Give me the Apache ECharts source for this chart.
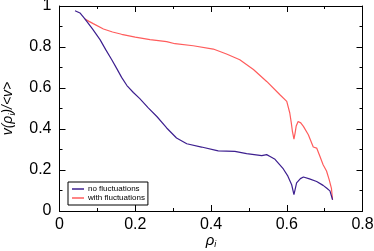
<!DOCTYPE html>
<html><head><meta charset="utf-8">
<script src="https://cdn.jsdelivr.net/npm/echarts@6/dist/echarts.min.js"></script>
<style>html,body{margin:0;padding:0;background:#fff}#c{width:374px;height:251px}</style>
</head><body><div id="c"></div>
<script>
var seriesNames = ['no fluctuations', 'with fluctuations'];
var noFluctX = [0.041,0.054,0.067,0.087,0.107,0.122,0.138,0.152,0.164,0.178,0.195,0.212,0.235,0.257,0.283,0.309,0.336,0.375,0.419,0.463,0.494,0.534,0.547,0.556,0.569,0.591,0.603,0.613,0.619,0.626,0.636,0.644,0.660,0.679,0.696,0.705,0.714,0.721];
var noFluctY = [0.977,0.966,0.937,0.888,0.836,0.787,0.738,0.692,0.652,0.612,0.578,0.548,0.502,0.461,0.405,0.356,0.328,0.312,0.293,0.291,0.280,0.270,0.275,0.266,0.252,0.205,0.170,0.128,0.080,0.137,0.158,0.166,0.157,0.144,0.125,0.112,0.098,0.055];
var withFluctX = [0.067,0.078,0.089,0.116,0.140,0.164,0.200,0.239,0.283,0.305,0.353,0.406,0.441,0.476,0.512,0.547,0.582,0.600,0.608,0.612,0.615,0.619,0.622,0.625,0.630,0.637,0.644,0.657,0.670,0.679,0.688,0.696,0.705,0.712,0.718,0.721];
var withFluctY = [0.937,0.925,0.914,0.888,0.873,0.862,0.848,0.836,0.826,0.816,0.806,0.790,0.766,0.738,0.690,0.632,0.567,0.535,0.478,0.430,0.388,0.351,0.380,0.415,0.437,0.430,0.413,0.372,0.312,0.307,0.265,0.226,0.195,0.153,0.110,0.055];
var xTicks = [0, 0.2, 0.4, 0.6, 0.8];
var yTicks = [0, 0.2, 0.4, 0.6, 0.8, 1];

function pairs(xs, ys){ return xs.map(function(x,i){ return [x, ys[i]]; }); }
function fmt(v){ return String(Math.round(v*10)/10); }

var chart = echarts.init(document.getElementById('c'));
var FONT = '"Liberation Sans", Arial, sans-serif';
function axisCommon(show){
  return {
    axisLine: {show: true, onZero: false, lineStyle: {color: '#000', width: 1}},
    axisTick: {show: true, inside: true, length: 6, lineStyle: {color: '#000', width: 1}},
    minorTick: {show: true, splitNumber: 2, length: 3, lineStyle: {color: '#000', width: 1}},
    splitLine: {show: false},
    axisLabel: {show: show, color: '#000', fontSize: 16, fontFamily: FONT, formatter: fmt}
  };
}
var xb = Object.assign({type:'value', position:'bottom', min: xTicks[0], max: xTicks[xTicks.length-1], interval: 0.2,
  name: '{a|ρ}{s|i}', nameLocation:'middle', nameGap: 30, nameMoveOverlap: false,
  nameTextStyle: {verticalAlign: 'middle', rich: {a:{fontSize:15, lineHeight: 14, fontStyle:'italic', fontFamily: FONT, color:'#000'}, s:{fontSize:9, lineHeight: 14, fontStyle:'italic', fontFamily: FONT, color:'#000', padding:[7,0,0,0]}}}
}, axisCommon(true));
xb.axisLabel.margin = 6;
var xt = Object.assign({type:'value', position:'top', min: 0, max: 0.8, interval: 0.2}, axisCommon(false));
var yl = Object.assign({type:'value', position:'left', min: yTicks[0], max: yTicks[yTicks.length-1], interval: 0.2,
  name: '{a|v(ρ}{s|i}{a|)/<v>}', nameLocation:'middle', nameGap: 43, nameMoveOverlap: false,
  nameTextStyle: {rich: {a:{fontSize:14, fontStyle:'italic', fontFamily: FONT, color:'#000'}, s:{fontSize:9, fontStyle:'italic', fontFamily: FONT, color:'#000', padding:[8,0,0,0]}}}
}, axisCommon(true));
yl.axisLabel.margin = 8;
var yr = Object.assign({type:'value', position:'right', min: 0, max: 1, interval: 0.2}, axisCommon(false));

chart.setOption({
  animation: false,
  backgroundColor: '#fff',
  grid: {left: 59.5, right: 11.5, top: 6, bottom: 40, containLabel: false, outerBoundsMode: 'none'},
  xAxis: [xb, xt],
  yAxis: [yl, yr],
  legend: {
    data: seriesNames, orient: 'vertical', left: 68, top: 182,
    itemWidth: 12, itemHeight: 1.5, itemGap: 1, icon: 'rect',
    padding: [3, 3, 3, 4], borderColor: '#000', borderWidth: 1, backgroundColor: '#fff',
    textStyle: {fontSize: 8, fontFamily: FONT, color: '#000', padding: [0,0,0,-1]}
  },
  series: [
    {name: seriesNames[0], type: 'line', data: pairs(noFluctX, noFluctY), showSymbol: false, symbol: 'none',
     lineStyle: {color: '#3d1f8f', width: 1.2}, itemStyle: {color: '#3d1f8f'}, z: 3},
    {name: seriesNames[1], type: 'line', data: pairs(withFluctX, withFluctY), showSymbol: false, symbol: 'none',
     lineStyle: {color: '#ff5c5c', width: 1.2}, itemStyle: {color: '#ff5c5c'}, z: 2}
  ]
});
</script></body></html>
